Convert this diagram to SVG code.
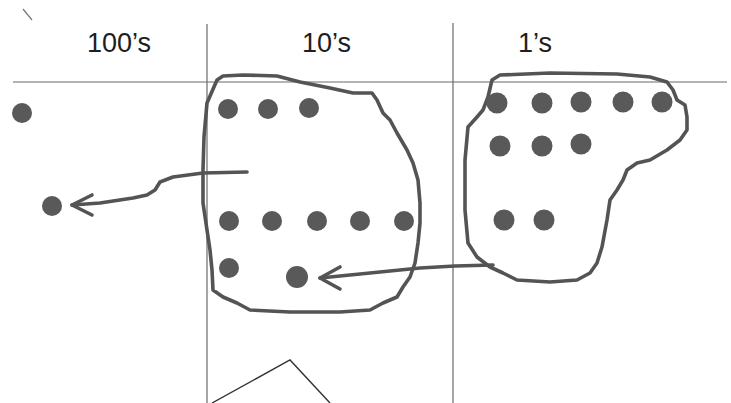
<svg xmlns="http://www.w3.org/2000/svg" width="731" height="403" viewBox="0 0 731 403">
<style>
.grid{stroke:#6a6a6a;stroke-width:1.2;fill:none}
.lbl{font-family:"Liberation Sans",Arial,sans-serif;font-size:27px;fill:#1e1e1e}
.dot{fill:#595959}
.loop{fill:none;stroke:#545454;stroke-width:3.6;stroke-linejoin:round;stroke-linecap:round}
.conn{fill:none;stroke:#545454;stroke-width:3.6;stroke-linejoin:round;stroke-linecap:round}
.thin{fill:none;stroke:#333;stroke-width:1.4}
</style>
<rect width="731" height="403" fill="#ffffff"/>
<g id="grid">
<line class="grid" x1="13" y1="82" x2="727" y2="82"/>
<line class="grid" x1="207" y1="24" x2="207" y2="403"/>
<line class="grid" x1="453" y1="23" x2="453" y2="403"/>
<line x1="23" y1="9" x2="32" y2="20" stroke="#777" stroke-width="1.2"/>
</g>
<g id="labels">
<text class="lbl" x="87" y="52">100’s</text>
<text class="lbl" x="302" y="52">10’s</text>
<text class="lbl" x="518" y="52">1’s</text>
</g>
<g id="hundreds">
<circle class="dot" cx="22" cy="113" r="10"/>
<circle class="dot" cx="52" cy="206" r="10"/>
</g>
<g id="tens">
<path class="loop" d="M217,80 L223,76 L243,75 L277,76 L300,82 L330,88 L353,93 L372,93 L377,100 L383,113 L390,120 L397,133 L407,150 L413,163 L418,180 L420,203 L420,223 L418,243 L415,263 L410,277 L403,287 L397,297 L383,303 L370,310 L340,312 L290,312 L250,310 L237,303 L223,297 L213,290 L212,270 L210,250 L207,230 L203,203 L203,170 L204,137 L207,103 Z"/>
<circle class="dot" cx="228" cy="109" r="10"/>
<circle class="dot" cx="268" cy="109" r="10"/>
<circle class="dot" cx="309" cy="108" r="10"/>
<circle class="dot" cx="229" cy="221" r="10"/>
<circle class="dot" cx="272" cy="221" r="10"/>
<circle class="dot" cx="317" cy="221" r="10"/>
<circle class="dot" cx="360" cy="221" r="10"/>
<circle class="dot" cx="404" cy="221" r="10"/>
<circle class="dot" cx="229" cy="268" r="10"/>
<circle class="dot" cx="297" cy="277" r="11"/>
</g>
<g id="ones">
<path class="loop" d="M492,80 L500,75 L550,73 L617,74 L650,77 L667,82 L673,90 L677,100 L685,105 L687,117 L687,130 L680,140 L667,150 L650,160 L637,163 L627,170 L623,180 L617,190 L610,200 L607,220 L602,247 L597,263 L590,273 L577,280 L550,282 L517,280 L503,273 L490,267 L477,257 L468,243 L465,210 L465,160 L468,127 L477,117 L483,110 L488,97 Z"/>
<circle class="dot" cx="497" cy="103" r="10.5"/>
<circle class="dot" cx="542" cy="103" r="10.5"/>
<circle class="dot" cx="581" cy="102" r="10.5"/>
<circle class="dot" cx="623" cy="102" r="10.5"/>
<circle class="dot" cx="662" cy="102" r="10.5"/>
<circle class="dot" cx="500" cy="146" r="10.5"/>
<circle class="dot" cx="542" cy="146" r="10.5"/>
<circle class="dot" cx="581" cy="144" r="10.5"/>
<circle class="dot" cx="504" cy="220" r="10.5"/>
<circle class="dot" cx="544" cy="220" r="10.5"/>
</g>
<g id="triangle">
<polyline class="thin" points="212,403 290,360 330,403"/>
</g>
<g id="connectors">
<path class="conn" d="M247,172 L203,173 L173,177 L160,182 L155,190 L147,195 L133,198 L100,203 L72,205"/>
<path class="conn" d="M92,195 L72,205 L92,215"/>
<path class="conn" d="M493,265 L455,266 L420,268 L380,272 L320,278"/>
<path class="conn" d="M340,267 L320,278 L340,289"/>
</g>
</svg>
